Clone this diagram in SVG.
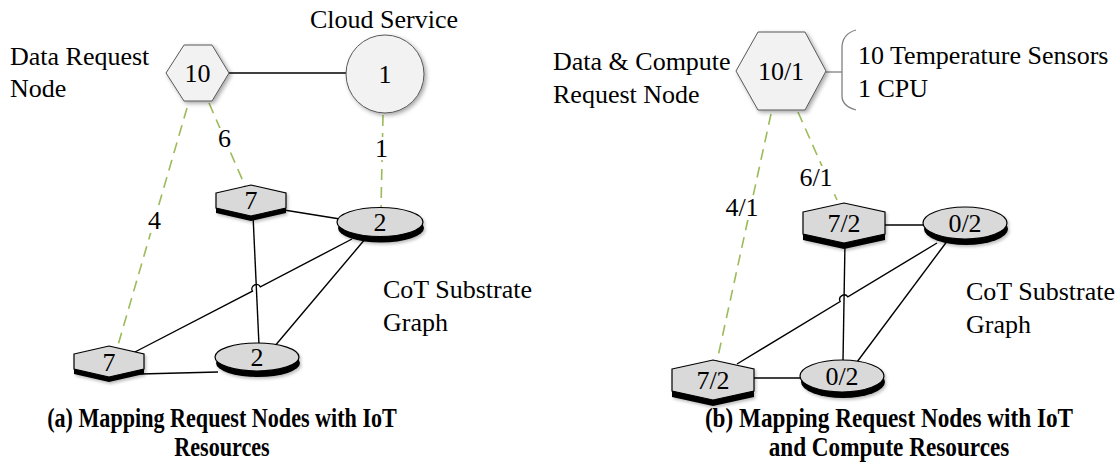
<svg xmlns="http://www.w3.org/2000/svg" width="1117" height="468" viewBox="0 0 1117 468">
<style>
  text { font-family: "Liberation Serif", "Times New Roman", serif; fill: #000; }
  .lbl { font-size: 26px; }
  .num { font-size: 26px; text-anchor: middle; }
  .cap { font-size: 27px; font-weight: bold; text-anchor: middle; }
  .edge { stroke: #000; stroke-width: 1.4; fill: none; }
  .map { stroke: #9bbb59; stroke-width: 1.6; stroke-dasharray: 11 7; fill: none; }
  .face { fill: #d9d9d9; stroke: #000; stroke-width: 1.2; }
  .depth { fill: #000; }
  .req { fill: #f2f2f2; stroke: #595959; stroke-width: 1; }
  .bg { fill: #fff; }
</style>
<defs>
  <filter id="sh" x="-30%" y="-30%" width="160%" height="160%">
    <feDropShadow dx="2" dy="2" stdDeviation="2.2" flood-color="#000" flood-opacity="0.35"/>
  </filter>
  <filter id="sh2" x="-30%" y="-30%" width="160%" height="160%">
    <feDropShadow dx="1.5" dy="2" stdDeviation="1.5" flood-color="#000" flood-opacity="0.25"/>
  </filter>
  <polygon id="hexS" points="-35,-8 0,-16 35,-8 35,7 0,15 -35,7"/>
  <polygon id="hexL" points="-41,-11 0,-20 41,-11 41,11 0,20 -41,11"/>
</defs>

<!-- Connectors -->
<g id="connectors">
  <!-- panel a -->
  <line class="edge" x1="229" y1="73" x2="346" y2="73"/>
  <line class="edge" x1="284" y1="210" x2="340" y2="219"/>
  <line class="edge" x1="253" y1="215" x2="259" y2="345"/>
  <path class="edge" d="M352,239 L260.4,286.9 A4.5,4.5 0 0 0 252.4,291.1 L133,353"/>
  <line class="edge" x1="366" y1="238" x2="274" y2="347"/>
  <line class="edge" x1="140" y1="374" x2="218" y2="372"/>
  <line class="map" x1="187" y1="108" x2="116" y2="352"/>
  <line class="map" x1="209" y1="103" x2="246" y2="188"/>
  <line class="map" x1="383" y1="115" x2="381" y2="208"/>
  <!-- panel b -->
  <line class="edge" x1="880" y1="225" x2="925" y2="225"/>
  <line class="edge" x1="845" y1="242" x2="843" y2="361"/>
  <path class="edge" d="M937,243 L847.85,296.9 A4.5,4.5 0 0 0 840.15,301.5 L737,364"/>
  <line class="edge" x1="948" y1="240" x2="857" y2="362"/>
  <line class="edge" x1="750" y1="378" x2="803" y2="378"/>
  <line class="map" x1="771" y1="114" x2="717" y2="361"/>
  <line class="map" x1="798" y1="112" x2="837" y2="200"/>
  <line x1="826" y1="72" x2="842" y2="72" stroke="#808080" stroke-width="1.3"/>
  <path d="M856,30 Q842,34 842,48 L842,96 Q842,106 856,110" fill="none" stroke="#808080" stroke-width="1.3"/>
</g>

<!-- Connector labels -->
<g id="edge-labels">
  <rect class="bg" x="147" y="210" width="15" height="23"/>
  <text class="num" x="154.5" y="229">4</text>
  <rect class="bg" x="217" y="128" width="15" height="23"/>
  <text class="num" x="224.5" y="147">6</text>
  <rect class="bg" x="375" y="137" width="13" height="23"/>
  <text class="num" x="381.5" y="157">1</text>
  <rect class="bg" x="725" y="196" width="34" height="24"/>
  <text class="num" x="742" y="216">4/1</text>
  <rect class="bg" x="799" y="166" width="34" height="24"/>
  <text class="num" x="816" y="186">6/1</text>
</g>

<!-- Panel a nodes -->
<g id="req-10">
  <polygon class="req" filter="url(#sh)" points="166,73 184,45 212,45 229,73 212,101 184,101"/>
  <text class="num" x="197.5" y="82">10</text>
</g>
<g id="cloud-1">
  <circle class="req" filter="url(#sh)" cx="385" cy="74" r="39"/>
  <text class="num" x="385" y="83">1</text>
</g>
<g id="a-hex-top">
  <g transform="translate(251,201)" filter="url(#sh2)">
    <use href="#hexS" class="depth" transform="translate(0,5)"/>
    <use href="#hexS" class="face"/>
  </g>
  <text class="num" x="251" y="209">7</text>
</g>
<g id="a-ell-top">
  <g filter="url(#sh2)">
    <ellipse class="depth" cx="381" cy="228" rx="43" ry="14.5"/>
    <ellipse class="face" cx="380" cy="222" rx="43" ry="14.5"/>
  </g>
  <text class="num" x="380" y="231">2</text>
</g>
<g id="a-hex-bot">
  <g transform="translate(109,362)" filter="url(#sh2)">
    <use href="#hexS" class="depth" transform="translate(0,5)"/>
    <use href="#hexS" class="face"/>
  </g>
  <text class="num" x="109" y="371">7</text>
</g>
<g id="a-ell-bot">
  <g filter="url(#sh2)">
    <ellipse class="depth" cx="258" cy="363" rx="42" ry="14"/>
    <ellipse class="face" cx="257" cy="357" rx="42" ry="14"/>
  </g>
  <text class="num" x="257" y="366">2</text>
</g>

<!-- Panel b nodes -->
<g id="req-10-1">
  <polygon class="req" filter="url(#sh)" points="736,71 758,32 805,32 826,71 805,110 758,110"/>
  <text class="num" x="781" y="80">10/1</text>
</g>
<g id="b-hex-top">
  <g transform="translate(844,223)" filter="url(#sh2)">
    <use href="#hexL" class="depth" transform="translate(0,6)"/>
    <use href="#hexL" class="face"/>
  </g>
  <text class="num" x="844" y="232">7/2</text>
</g>
<g id="b-ell-top">
  <g filter="url(#sh2)">
    <ellipse class="depth" cx="966" cy="229" rx="42" ry="16"/>
    <ellipse class="face" cx="965" cy="223" rx="42" ry="16"/>
  </g>
  <text class="num" x="965" y="232">0/2</text>
</g>
<g id="b-hex-bot">
  <g transform="translate(713,380)" filter="url(#sh2)">
    <use href="#hexL" class="depth" transform="translate(0,6)"/>
    <use href="#hexL" class="face"/>
  </g>
  <text class="num" x="713" y="389">7/2</text>
</g>
<g id="b-ell-bot">
  <g filter="url(#sh2)">
    <ellipse class="depth" cx="843" cy="382" rx="42" ry="16"/>
    <ellipse class="face" cx="842" cy="376" rx="42" ry="16"/>
  </g>
  <text class="num" x="842" y="385">0/2</text>
</g>

<!-- Free labels -->
<g id="labels">
  <text class="lbl" x="10" y="65">Data Request</text>
  <text class="lbl" x="10" y="97">Node</text>
  <text class="lbl" x="310" y="28">Cloud Service</text>
  <text class="lbl" x="383" y="298">CoT Substrate</text>
  <text class="lbl" x="383" y="331">Graph</text>
  <text class="lbl" x="553" y="70">Data &amp; Compute</text>
  <text class="lbl" x="553" y="103">Request Node</text>
  <text class="lbl" x="858" y="64">10 Temperature Sensors</text>
  <text class="lbl" x="858" y="97">1 CPU</text>
  <text class="lbl" x="966" y="300">CoT Substrate</text>
  <text class="lbl" x="966" y="333">Graph</text>
</g>

<!-- Captions -->
<g id="captions">
  <g transform="translate(222,0) scale(0.82,1)">
    <text class="cap" x="0" y="427">(a) Mapping Request Nodes with IoT</text>
    <text class="cap" x="0" y="456">Resources</text>
  </g>
  <g transform="translate(889,0) scale(0.86,1)">
    <text class="cap" x="0" y="427">(b) Mapping Request Nodes with IoT</text>
    <text class="cap" x="0" y="456">and Compute Resources</text>
  </g>
</g>
</svg>
